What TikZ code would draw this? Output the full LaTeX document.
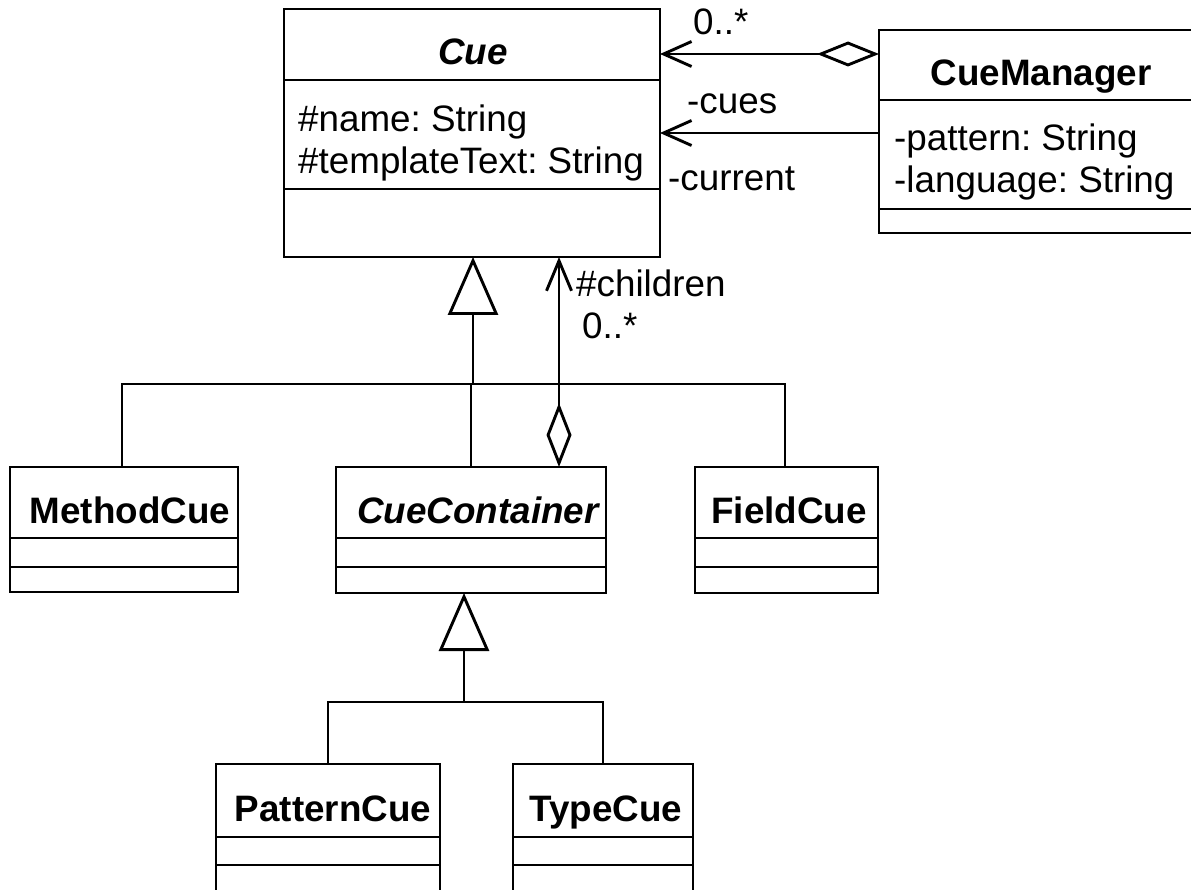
\documentclass[tikz,border=0pt]{standalone}
\usepackage{fontspec}
\setmainfont{Liberation Sans}
\usetikzlibrary{arrows.meta}
\frenchspacing
\begin{document}
\begin{tikzpicture}[x=1pt,y=-1pt,
  lw/.style={line width=2.9pt},
  clsbox/.style={draw, lw, outer sep=0pt, inner sep=0pt, anchor=north west, rectangle},
  lbl/.style={inner sep=0pt, anchor=base west, font=\fontsize{36.8pt}{44pt}\selectfont},
  clsname/.style={inner sep=0pt, anchor=base, font=\fontsize{36.8pt}{44pt}\selectfont\bfseries},
  clsnamei/.style={inner sep=0pt, anchor=base, font=\fontsize{36.8pt}{44pt}\selectfont\bfseries\itshape},
  genarrow/.style={lw, -{Triangle[open, length=58pt, width=50pt]}},
  aggarrow/.style={lw, {Diamond[open, length=62pt, width=25pt]}-{Straight Barb[length=28pt, width=25pt]}},
  navarrow/.style={lw, -{Straight Barb[length=28pt, width=25pt]}},
  plainline/.style={lw}]
\useasboundingbox (0,0) rectangle (1191,890);
\fill[white] (0,0) rectangle (1191,890);
\clip (0,0) rectangle (1191,890);

% class boxes
\node[clsbox, minimum width=376pt, minimum height=248pt] (cue) at (284,9) {};
\node[clsbox, minimum width=326pt, minimum height=203pt] (cm) at (879,30) {};
\node[clsbox, minimum width=228pt, minimum height=125pt] (mc) at (10,467) {};
\node[clsbox, minimum width=270pt, minimum height=126pt] (cc) at (336,467) {};
\node[clsbox, minimum width=183pt, minimum height=126pt] (fc) at (695,467) {};
\node[clsbox, minimum width=224pt, minimum height=140pt] (pc) at (216,764) {};
\node[clsbox, minimum width=180pt, minimum height=140pt] (tc) at (513,764) {};

% compartment dividers
\draw[plainline] (cue.west |- 0,80) -- (cue.east |- 0,80);
\draw[plainline] (cue.west |- 0,189) -- (cue.east |- 0,189);
\draw[plainline] (cm.west |- 0,100) -- (cm.east |- 0,100);
\draw[plainline] (cm.west |- 0,209) -- (cm.east |- 0,209);
\foreach \n in {mc,cc,fc}{
  \draw[plainline] (\n.west |- 0,538) -- (\n.east |- 0,538);
  \draw[plainline] (\n.west |- 0,567) -- (\n.east |- 0,567);
}
\foreach \n in {pc,tc}{
  \draw[plainline] (\n.west |- 0,837) -- (\n.east |- 0,837);
  \draw[plainline] (\n.west |- 0,865) -- (\n.east |- 0,865);
}

% class names
\node[clsnamei] (cuet) at (473,65) {Cue};
\node[clsname] (cmt) at (1041,86) {CueManager};
\node[clsname] (mct) at (130,523) {MethodCue};
\node[clsnamei] (cct) at (478,523) {CueContainer};
\node[clsname] (fct) at (789,523) {FieldCue};
\node[clsname] (pct) at (333,821) {PatternCue};
\node[clsname] (tct) at (606,821) {TypeCue};

% attributes
\node[lbl] (a1) at (298,132) {\#name: String};
\node[lbl] (a2) at (298,174) {\#templateText: String};
\node[lbl] (a3) at (894,151) {-pattern: String};
\node[lbl] (a4) at (894,193) {-language: String};

% aggregation CueManager -> Cue
\draw[aggarrow] ([yshift=-24pt]cm.north west) -- ([yshift=-45pt]cue.north east);
\node[lbl] (m1) at (693,35) {0..*};
% association -cues
\draw[navarrow] ([yshift=-103pt]cm.north west) -- ([yshift=-124pt]cue.north east);
\node[lbl] (r1) at (687,114) {-cues};
\node[lbl] (r2) at (668,191) {-current};

% generalization to Cue
\coordinate (j1) at (473,384);
\draw[genarrow] (j1) -- (j1 |- cue.south);
\draw[plainline] ([xshift=-2pt]mc.north) |- (j1);
\draw[plainline] (cc.north) |- (j1);
\draw[plainline] ([xshift=-1.5pt]fc.north) |- (j1);

% aggregation CueContainer -> Cue (#children)
\coordinate (ccagg) at ([xshift=88pt]cc.north);
\draw[lw, {Diamond[open, length=64pt, width=25pt]}-{Straight Barb[length=30pt, width=25pt]}] (ccagg) -- (ccagg |- cue.south);
\node[lbl] (r3) at (576,297) {\#children};
\node[lbl] (m2) at (582,339) {0..*};

% generalization to CueContainer
\coordinate (j2) at (464,702);
\draw[genarrow] (j2) -- (j2 |- cc.south);
\draw[plainline] (pc.north) |- (j2);
\draw[plainline] (tc.north) |- (j2);
\end{tikzpicture}
\end{document}
